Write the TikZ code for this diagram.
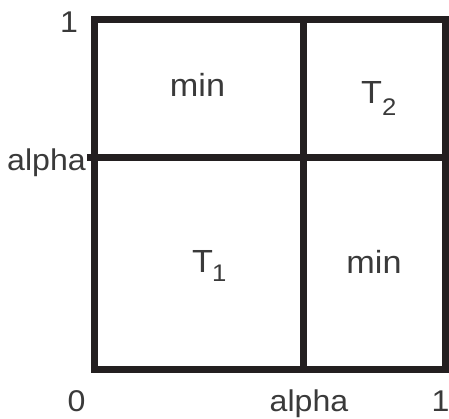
\documentclass[tikz,border=0pt]{standalone}
\usepackage{fontspec}
\setmainfont[FakeStretch=1.07]{Liberation Sans}
\definecolor{linecol}{HTML}{231F20}
\definecolor{txtcol}{HTML}{3A3A3A}
\tikzset{
  lbl/.style={inner sep=0pt, text=txtcol, font=\fontsize{30}{36}\selectfont},
  cell/.style={inner sep=0pt, text=txtcol, font=\fontsize{32}{38}\selectfont},
  grid line/.style={draw=linecol, line width=7pt},
}
\newcommand{\mysub}[2]{\raisebox{-#1pt}{\fontsize{24}{28}\selectfont #2}}
\begin{document}
\begin{tikzpicture}[x=1pt,y=-1pt]
\useasboundingbox (0,0) rectangle (449,418);
% frame and dividers
\coordinate (tl) at (94.5,19.5);
\coordinate (br) at (445,369.5);
\draw[grid line, line join=miter] (tl) rectangle (br);
\draw[grid line] (303.5,19.5) -- (303.5,369.5);
\draw[grid line] (87,157) -- (445,157);
% axis labels
\node[lbl, anchor=base] (one top) at (69,32) {1};
\node[lbl, anchor=base west] (alpha left) at (7,170) {alpha};
\node[lbl, anchor=base] (zero) at (76.5,411) {0};
\node[lbl, anchor=base] (alpha bottom) at (309,411.5) {alpha};
\node[lbl, anchor=base] (one right) at (440.5,411.5) {1};
% cell labels
\node[cell, anchor=base] (min top) at (197.5,96) {min};
\node[cell, anchor=base west] (t two) at (361,103) {T\mysub{12}{2}};
\node[cell, anchor=base west] (t one) at (192,272.7) {T\kern-1pt\mysub{9}{1}};
\node[cell, anchor=base] (min bottom) at (374,273.3) {min};
\end{tikzpicture}
\end{document}
